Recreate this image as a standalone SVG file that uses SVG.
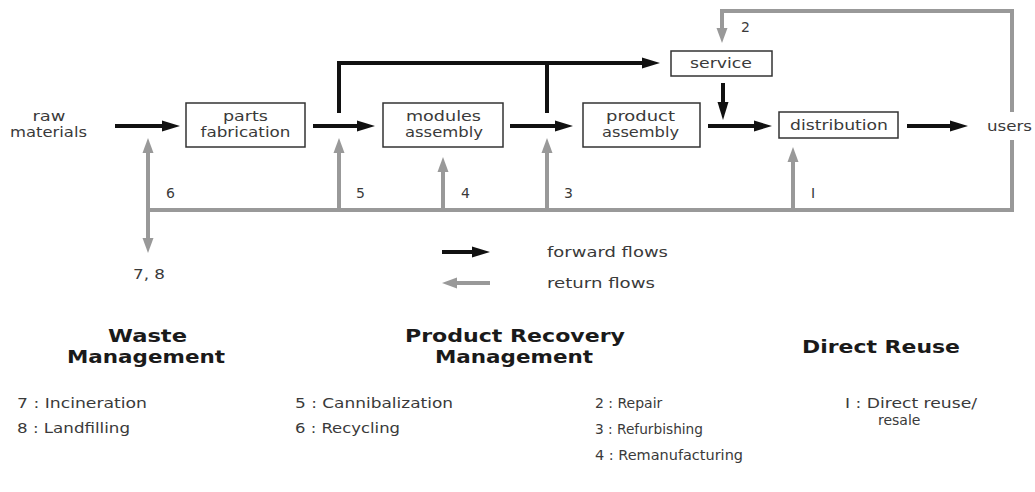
<svg xmlns="http://www.w3.org/2000/svg" width="1035" height="492" viewBox="0 0 1035 492">
<style>
.box{fill:#fff;stroke:#333;stroke-width:1.5}
.t{font-family:"DejaVu Sans",sans-serif;font-size:14px;fill:#3a3a3a}
.c{text-anchor:middle}
.h{font-family:"DejaVu Sans",sans-serif;font-size:17px;font-weight:bold;fill:#1a1a1a;text-anchor:middle}
.fw{fill:none;stroke:#111;stroke-width:4}
.rt{fill:none;stroke:#999;stroke-width:4}
</style>
<defs>
<marker id="ab" markerUnits="userSpaceOnUse" markerWidth="20" markerHeight="12" refX="0" refY="6" orient="auto">
<path d="M0,0.5 L18,6 L0,11.5 z" fill="#111"/>
</marker>
<marker id="ag" markerUnits="userSpaceOnUse" markerWidth="16" markerHeight="12" refX="0" refY="6" orient="auto">
<path d="M0,0.5 L15,6 L0,11.5 z" fill="#999"/>
</marker>
</defs>
<rect width="1035" height="492" fill="#fff"/>

<g id="connectors">
<path class="fw" d="M115,126 H162" marker-end="url(#ab)"/>
<path class="fw" d="M313,126 H357" marker-end="url(#ab)"/>
<path class="fw" d="M339,113 V63 H642" marker-end="url(#ab)"/>
<path class="fw" d="M547,113 V63"/>
<path class="fw" d="M510,126 H555" marker-end="url(#ab)"/>
<path class="fw" d="M708,126 H754" marker-end="url(#ab)"/>
<path class="fw" d="M723,83 V102" marker-end="url(#ab)"/>
<path class="fw" d="M907,126 H950" marker-end="url(#ab)"/>
<path class="rt" d="M1012,112 V11 H722 V28" marker-end="url(#ag)"/>
<path class="rt" d="M1012,140 V210 H148"/>
<path class="rt" d="M148,210 V153" marker-end="url(#ag)"/>
<path class="rt" d="M148,210 V238" marker-end="url(#ag)"/>
<path class="rt" d="M339,210 V153" marker-end="url(#ag)"/>
<path class="rt" d="M443,210 V172" marker-end="url(#ag)"/>
<path class="rt" d="M547,210 V153" marker-end="url(#ag)"/>
<path class="rt" d="M793,210 V162" marker-end="url(#ag)"/>
</g>

<g id="raw-materials">
<text class="t c" x="49" y="121" textLength="33" lengthAdjust="spacingAndGlyphs">raw</text>
<text class="t c" x="48.5" y="137" textLength="77" lengthAdjust="spacingAndGlyphs">materials</text>
</g>
<g id="parts-fabrication">
<rect class="box" x="186" y="103" width="119" height="44"/>
<text class="t c" x="245.5" y="121" textLength="45" lengthAdjust="spacingAndGlyphs">parts</text>
<text class="t c" x="245.5" y="137" textLength="90" lengthAdjust="spacingAndGlyphs">fabrication</text>
</g>
<g id="modules-assembly">
<rect class="box" x="383" y="103" width="120" height="44"/>
<text class="t c" x="443.5" y="121" textLength="75" lengthAdjust="spacingAndGlyphs">modules</text>
<text class="t c" x="444" y="137" textLength="78" lengthAdjust="spacingAndGlyphs">assembly</text>
</g>
<g id="product-assembly">
<rect class="box" x="583" y="103" width="117" height="44"/>
<text class="t c" x="640.5" y="121" textLength="69" lengthAdjust="spacingAndGlyphs">product</text>
<text class="t c" x="640.5" y="137" textLength="77" lengthAdjust="spacingAndGlyphs">assembly</text>
</g>
<g id="service">
<rect class="box" x="671" y="51" width="101" height="25"/>
<text class="t c" x="721" y="68" textLength="62" lengthAdjust="spacingAndGlyphs">service</text>
</g>
<g id="distribution">
<rect class="box" x="779" y="112" width="119" height="26"/>
<text class="t c" x="839" y="130" textLength="98" lengthAdjust="spacingAndGlyphs">distribution</text>
</g>
<g id="users">
<text class="t c" x="1009.5" y="131" textLength="45" lengthAdjust="spacingAndGlyphs">users</text>
</g>

<g id="flow-labels">
<text class="t" x="166" y="198">6</text>
<text class="t" x="356" y="198">5</text>
<text class="t" x="461" y="198">4</text>
<text class="t" x="564" y="198">3</text>
<text class="t" x="811" y="198">I</text>
<text class="t" x="741" y="32">2</text>
<text class="t" x="133" y="279" textLength="32" lengthAdjust="spacingAndGlyphs">7, 8</text>
</g>

<g id="legend">
<path class="fw" d="M442,252 H472" marker-end="url(#ab)"/>
<path class="rt" d="M490,283 H457" marker-end="url(#ag)"/>
<text class="t" x="547" y="257" textLength="121" lengthAdjust="spacingAndGlyphs">forward flows</text>
<text class="t" x="547" y="288" textLength="108" lengthAdjust="spacingAndGlyphs">return flows</text>
</g>

<g id="waste-management">
<text class="h" x="147.5" y="342" textLength="79" lengthAdjust="spacingAndGlyphs">Waste</text>
<text class="h" x="146" y="363" textLength="158" lengthAdjust="spacingAndGlyphs">Management</text>
<text class="t" x="17" y="408" textLength="130" lengthAdjust="spacingAndGlyphs">7 : Incineration</text>
<text class="t" x="17" y="433" textLength="113" lengthAdjust="spacingAndGlyphs">8 : Landfilling</text>
</g>
<g id="product-recovery-management">
<text class="h" x="515" y="342" textLength="220" lengthAdjust="spacingAndGlyphs">Product Recovery</text>
<text class="h" x="514" y="363" textLength="158" lengthAdjust="spacingAndGlyphs">Management</text>
<text class="t" x="295" y="408" textLength="158" lengthAdjust="spacingAndGlyphs">5 : Cannibalization</text>
<text class="t" x="295" y="433" textLength="105" lengthAdjust="spacingAndGlyphs">6 : Recycling</text>
<text class="t" x="595" y="408">2 : Repair</text>
<text class="t" x="595" y="434" textLength="108" lengthAdjust="spacingAndGlyphs">3 : Refurbishing</text>
<text class="t" x="595" y="460" textLength="148" lengthAdjust="spacingAndGlyphs">4 : Remanufacturing</text>
</g>
<g id="direct-reuse">
<text class="h" x="881" y="353" textLength="158" lengthAdjust="spacingAndGlyphs">Direct Reuse</text>
<text class="t" x="845" y="408" textLength="132" lengthAdjust="spacingAndGlyphs">I  : Direct reuse/</text>
<text class="t" x="878" y="425">resale</text>
</g>
</svg>
